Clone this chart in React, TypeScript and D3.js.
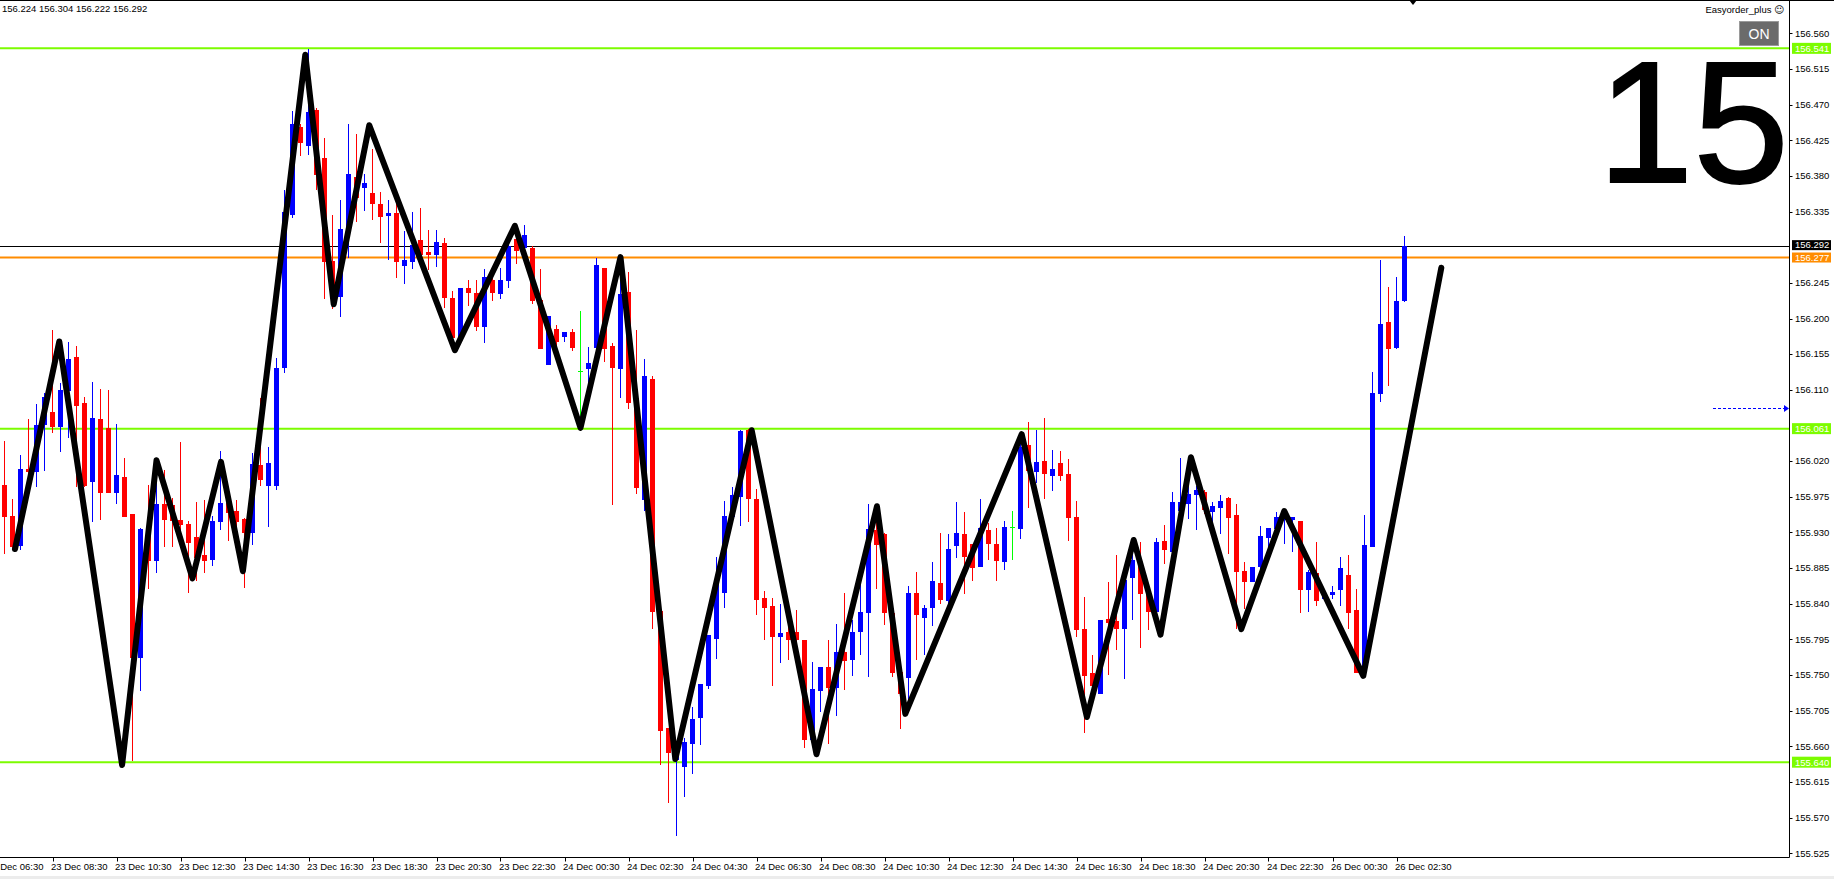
import React from "react";
import * as d3 from "d3";

const opens = [155.990,155.951,155.914,156.010,156.007,156.067,156.082,156.064,156.110,156.151,156.093,155.995,156.073,156.062,155.981,156.000,155.953,155.773,155.934,155.895,155.966,155.965,155.946,155.941,155.924,155.902,155.897,155.945,155.967,155.957,155.947,155.930,156.015,155.990,155.990,156.139,156.332,156.442,156.419,156.463,156.403,156.273,156.229,156.312,156.378,156.366,156.358,156.345,156.331,156.333,156.268,156.272,156.299,156.284,156.282,156.295,156.226,156.177,156.238,156.232,156.191,156.249,156.232,156.248,156.300,156.290,156.289,156.224,156.142,156.187,156.178,156.183,156.134,156.137,156.164,156.264,156.165,156.137,156.233,156.100,155.972,156.124,155.831,155.683,155.644,155.635,155.664,155.697,155.737,155.797,155.855,155.951,155.976,156.059,155.972,155.847,155.837,155.799,155.804,155.804,155.794,155.669,155.731,155.760,155.735,155.779,155.770,155.806,155.830,155.933,155.928,155.828,155.754,155.748,155.854,155.823,155.836,155.866,155.845,155.914,155.928,155.915,155.887,155.933,155.916,155.894,155.937,155.935,156.040,156.008,156.020,156.003,156.018,156.004,155.950,155.808,155.753,155.727,155.821,155.818,155.810,155.874,155.893,155.853,155.831,155.919,155.907,155.958,155.967,155.979,155.981,155.957,155.962,155.974,155.952,155.881,155.869,155.887,155.924,155.935,155.947,155.947,155.944,155.859,155.879,155.847,155.852,155.858,155.876,155.832,155.756,155.913,156.106,156.196,156.164,156.224];
const highs = [156.045,155.972,156.028,156.073,156.092,156.106,156.186,156.119,156.170,156.165,156.101,156.120,156.111,156.110,156.067,156.024,155.953,155.935,155.990,156.013,156.009,155.974,156.044,155.944,155.968,155.971,155.951,156.033,155.979,155.971,155.948,156.030,156.100,156.038,156.150,156.362,156.462,156.445,156.540,156.466,156.428,156.331,156.350,156.445,156.433,156.383,156.414,156.360,156.349,156.344,156.310,156.335,156.340,156.312,156.312,156.302,156.235,156.239,156.249,156.249,156.263,156.263,156.264,156.301,156.318,156.318,156.291,156.262,156.203,156.192,156.183,156.187,156.209,156.164,156.276,156.264,156.169,156.257,156.259,156.185,156.149,156.128,155.831,155.683,155.663,155.671,155.710,155.739,155.801,155.899,155.970,155.987,156.059,156.060,155.985,155.856,155.847,155.840,155.828,155.832,155.794,155.767,155.760,155.794,155.815,155.854,155.820,155.870,155.966,155.954,155.929,155.828,155.754,155.862,155.880,155.838,155.893,155.929,155.928,155.969,155.956,155.915,155.972,155.942,155.936,155.944,155.957,156.051,156.069,156.059,156.074,156.034,156.033,156.023,155.970,155.849,155.775,155.820,155.868,155.901,155.878,155.918,155.918,155.862,155.923,155.939,155.981,156.024,156.021,155.988,155.984,155.968,155.977,155.975,155.966,155.893,155.886,155.938,155.936,155.956,155.956,155.949,155.944,155.883,155.918,155.853,155.862,155.899,155.901,155.859,155.952,156.133,156.274,156.240,156.252,156.304];
const lows = [155.904,155.910,155.909,156.000,155.989,156.009,156.057,156.033,156.051,155.988,155.988,155.944,155.947,155.981,155.967,155.951,155.643,155.731,155.860,155.880,155.913,155.913,155.929,155.855,155.870,155.880,155.889,155.934,155.920,155.929,155.861,155.916,155.990,155.938,155.985,156.132,156.328,156.407,156.408,156.364,156.226,156.213,156.203,156.278,156.323,156.337,156.326,156.296,156.275,156.252,156.245,156.264,156.278,156.263,156.266,156.215,156.162,156.170,156.217,156.185,156.170,156.224,156.226,156.240,156.270,156.285,156.220,156.163,156.142,156.164,156.172,156.160,156.064,156.115,156.149,156.147,155.966,156.101,156.087,155.980,155.958,155.810,155.638,155.590,155.548,155.597,155.626,155.663,155.734,155.771,155.836,155.946,155.939,155.945,155.827,155.795,155.738,155.766,155.770,155.777,155.659,155.668,155.704,155.664,155.700,155.732,155.750,155.777,155.749,155.860,155.815,155.749,155.683,155.719,155.770,155.777,155.813,155.841,155.841,155.899,155.854,155.870,155.887,155.896,155.870,155.884,155.897,155.923,155.962,155.994,155.973,155.984,155.996,155.920,155.799,155.678,155.735,155.727,155.751,155.783,155.746,155.821,155.786,155.808,155.831,155.892,155.907,155.948,155.948,155.934,155.954,155.935,155.929,155.904,155.810,155.835,155.869,155.883,155.912,155.929,155.917,155.906,155.829,155.831,155.838,155.845,155.847,155.838,155.810,155.754,155.752,155.913,156.096,156.116,156.163,156.222];
const closes = [155.951,155.913,156.010,156.008,156.066,156.101,156.064,156.110,156.149,156.091,155.990,156.074,155.981,155.981,156.002,155.951,155.773,155.934,155.895,155.966,155.947,155.946,155.941,155.918,155.899,155.895,155.944,155.967,155.956,155.944,155.931,156.017,155.997,156.018,156.137,156.335,156.445,156.423,156.461,156.382,156.272,156.229,156.313,156.383,156.353,156.371,156.346,156.330,156.333,156.272,156.274,156.293,156.281,156.282,156.296,156.227,156.177,156.239,156.233,156.190,156.253,156.234,156.249,156.291,156.287,156.305,156.224,156.163,156.203,156.172,156.183,156.164,156.134,156.144,156.268,156.163,156.139,156.231,156.095,155.987,156.127,155.831,155.680,155.653,155.658,155.666,155.694,155.739,155.800,155.870,155.951,155.977,156.058,155.974,155.846,155.836,155.799,155.803,155.795,155.795,155.669,155.732,155.760,155.735,155.779,155.769,155.804,155.830,155.934,155.916,155.830,155.754,155.727,155.854,155.827,155.834,155.869,155.846,155.909,155.929,155.900,155.886,155.935,155.917,155.895,155.937,155.937,156.038,156.009,156.019,156.005,156.010,156.002,155.949,155.808,155.750,155.737,155.820,155.817,155.810,155.870,155.895,155.853,155.831,155.918,155.909,155.968,155.968,155.979,155.983,155.959,155.963,155.970,155.950,155.881,155.869,155.886,155.925,155.936,155.950,155.950,155.949,155.859,155.880,155.845,155.850,155.855,155.885,155.830,155.754,155.914,156.106,156.193,156.163,156.222,156.292];

const zigBars = [1.31,6.85,14.7,19.0,23.5,27.06,29.8,37.6,41.15,45.6,56.3,63.8,72.0,77.0,83.85,93.4,101.5,109.06,112.6,127.15,135.3,141.15,144.5,148.3,154.6,159.97,169.85,179.6];
const zigPrices = [155.909,156.171,155.6365,156.021,155.872,156.019,155.881,156.533,156.218,156.444,156.160,156.317,156.062,156.2775,155.644,156.059,155.650,155.963,155.701,156.054,155.697,155.9205,155.801,156.025,155.808,155.957,155.749,156.264];

const levelPrices = [156.541, 156.061, 155.640];
const bidPrice = 156.292;
const orangePrice = 156.277;
const arrowPrice = 156.087;

const priceTicks = [155.525,155.570,155.615,155.660,155.705,155.750,155.795,155.840,155.885,155.930,155.975,156.020,156.110,156.155,156.200,156.245,156.335,156.380,156.425,156.470,156.515,156.560];

const timeTickBars = [-2,6,14,22,30,38,46,54,62,70,78,86,94,102,110,118,126,134,142,150,158,166,174];
const timeTickLabels = ["23 Dec 06:30","23 Dec 08:30","23 Dec 10:30","23 Dec 12:30","23 Dec 14:30","23 Dec 16:30","23 Dec 18:30","23 Dec 20:30","23 Dec 22:30","24 Dec 00:30","24 Dec 02:30","24 Dec 04:30","24 Dec 06:30","24 Dec 08:30","24 Dec 10:30","24 Dec 12:30","24 Dec 14:30","24 Dec 16:30","24 Dec 18:30","24 Dec 20:30","24 Dec 22:30","26 Dec 00:30","26 Dec 02:30"];

const headerText = "156.224 156.304 156.222 156.292";
const bigLabel = "15";

const W = 1834;
const H = 879;
const AXIS_X = 1789.5;
const AXIS_Y = 857.5;
const FONT = "'Liberation Sans', Arial, sans-serif";
const GREEN = "#7CFC00";
const ORANGE = "#FF8C00";

export default function App() {
  const xs = d3.scaleLinear().domain([0, 175]).range([4.5, 1404.5]);
  const ys = d3.scaleLinear().domain([156.56, 155.525]).range([33.3, 853.3]);
  const line = d3
    .line<number>()
    .x((_, i) => xs(zigBars[i]))
    .y((p) => ys(p));

  const candles = opens.map((o, i) => {
    const c = closes[i];
    const color = c > o ? "#0000FF" : c < o ? "#FF0000" : "#00FF00";
    const cx = xs(i);
    const top = Math.round(ys(Math.max(o, c)));
    const bot = Math.round(ys(Math.min(o, c)));
    const hy = Math.round(ys(highs[i]));
    const ly = Math.round(ys(lows[i]));
    return (
      <g key={i} fill={color}>
        <rect x={cx - 0.5} y={hy} width={1} height={Math.max(1, ly - hy + 1)} />
        <rect x={cx - 2.5} y={top} width={5} height={Math.max(1, bot - top + 1)} />
      </g>
    );
  });

  const py = (p: number) => Math.round(ys(p)) + 0.5;

  return (
    <svg
      width={W}
      height={H}
      style={{ position: "fixed", left: 0, top: 0, background: "#fff" }}
      fontFamily={FONT}
    >
      <rect x={0} y={0} width={W} height={H} fill="#fff" />
      <rect x={0} y={876} width={W} height={3} fill="#ececec" />
      <line x1={0} x2={W} y1={0.5} y2={0.5} stroke="#000" strokeWidth={1} />
      <polygon points="1409,0 1417,0 1413,5" fill="#000" />

      {levelPrices.map((p, i) => (
        <line key={i} x1={0} x2={AXIS_X} y1={ys(p)} y2={ys(p)} stroke={GREEN} strokeWidth={2} />
      ))}
      <line x1={0} x2={AXIS_X} y1={py(bidPrice)} y2={py(bidPrice)} stroke="#000" strokeWidth={1} />
      <line x1={0} x2={AXIS_X} y1={ys(orangePrice)} y2={ys(orangePrice)} stroke={ORANGE} strokeWidth={2} />

      <g shapeRendering="crispEdges">{candles}</g>

      <path
        d={line(zigPrices) || ""}
        fill="none"
        stroke="#000"
        strokeWidth={6}
        strokeLinejoin="round"
        strokeLinecap="round"
      />

      <line x1={1713} x2={1785} y1={py(arrowPrice)} y2={py(arrowPrice)} stroke="#0000FF" strokeWidth={1} strokeDasharray="3,2" />
      <polygon
        points={`1784,${py(arrowPrice) - 3.5} 1789,${py(arrowPrice)} 1784,${py(arrowPrice) + 3.5}`}
        fill="#0000FF"
      />

      <text
        x={1789}
        y={182}
        textAnchor="end"
        fontSize={172}
        fill="#000"
        stroke="#000"
        strokeWidth={2}
        fontFamily={FONT}
      >
        {bigLabel}
      </text>

      <line x1={AXIS_X} x2={AXIS_X} y1={0} y2={AXIS_Y} stroke="#000" strokeWidth={1} />
      <line x1={0} x2={AXIS_X} y1={AXIS_Y} y2={AXIS_Y} stroke="#000" strokeWidth={1} />

      {priceTicks.map((t, i) => (
        <g key={i}>
          <line x1={AXIS_X} x2={AXIS_X + 3} y1={py(t)} y2={py(t)} stroke="#000" />
          <text x={1795} y={ys(t)} dy="0.35em" fontSize={9.5} fill="#000">
            {t.toFixed(3)}
          </text>
        </g>
      ))}

      {levelPrices.map((p, i) => (
        <g key={i}>
          <rect x={1792} y={ys(p) - 5.5} width={39} height={11} fill={GREEN} />
          <text x={1795} y={ys(p)} dy="0.35em" fontSize={9.5} fill="#fff">
            {p.toFixed(3)}
          </text>
        </g>
      ))}
      <rect x={1792} y={ys(bidPrice) - 5.5} width={39} height={10} fill="#000" />
      <text x={1795} y={ys(bidPrice) - 0.5} dy="0.35em" fontSize={9.5} fill="#fff">
        {bidPrice.toFixed(3)}
      </text>
      <rect x={1792} y={ys(orangePrice) - 5} width={39} height={10} fill={ORANGE} />
      <text x={1795} y={ys(orangePrice)} dy="0.35em" fontSize={9.5} fill="#fff">
        {orangePrice.toFixed(3)}
      </text>

      {timeTickBars.map((b, i) => (
        <g key={i}>
          <line x1={Math.round(xs(b)) + 0.5} x2={Math.round(xs(b)) + 0.5} y1={AXIS_Y} y2={AXIS_Y + 4} stroke="#000" />
          <text x={xs(b) - 1.5} y={869.5} fontSize={9.5} fill="#000">
            {timeTickLabels[i]}
          </text>
        </g>
      ))}

      <text x={2} y={11.5} fontSize={9.5} fill="#000">
        {headerText}
      </text>
      <text x={1784} y={13} textAnchor="end" fontSize={9.5} fill="#000">
        Easyorder_plus <tspan fontFamily="'DejaVu Sans'">☺</tspan>
      </text>
      <rect x={1739.5} y={21.5} width={39} height={24} fill="#6b6b6b" stroke="#9a9a9a" />
      <text x={1759} y={34} dy="0.36em" textAnchor="middle" fontSize={14} fill="#fff">
        ON
      </text>
    </svg>
  );
}
